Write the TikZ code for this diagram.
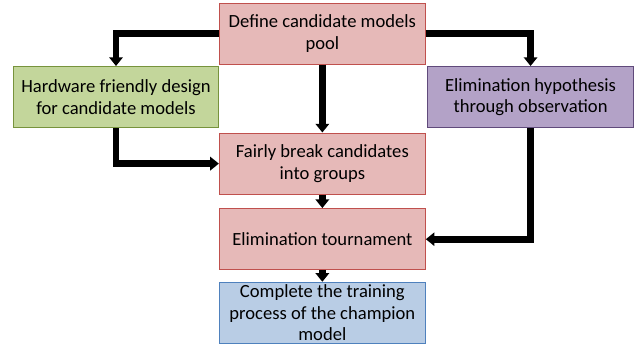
\documentclass[tikz,border=0pt]{standalone}
\usepackage{fontspec}
\setmainfont{Carlito}
\usetikzlibrary{arrows.meta}
\definecolor{rosa}{HTML}{E6B9B8}
\definecolor{rosabordo}{HTML}{C0504D}
\definecolor{verde}{HTML}{C3D69B}
\definecolor{verdebordo}{HTML}{77933C}
\definecolor{viola}{HTML}{B3A2C7}
\definecolor{violabordo}{HTML}{604A7B}
\definecolor{azzurro}{HTML}{B9CDE5}
\definecolor{azzurrobordo}{HTML}{4F81BD}
\begin{document}
\begin{tikzpicture}[
	box/.style={draw, line width=0.75pt, minimum width=5.45cm, minimum height=1.62cm,
		align=center, inner sep=0.5pt, font=\fontsize{14}{16.3}\selectfont},
	freccia/.style={line width=5.2pt, -{Triangle[width=10pt,length=6.5pt]}}
	]
	\useasboundingbox (0,0) rectangle (16.83,9.13);

	% blocchi
	\node[box, fill=rosa, draw=rosabordo] (define) at (8.53,8.24) {Define candidate models\\pool};
	\node[box, fill=verde, draw=verdebordo] (hardware) at (3.07,6.56) {Hardware friendly design\\for candidate models};
	\node[box, fill=viola, draw=violabordo] (hypothesis) at (14.04,6.56) {Elimination hypothesis\\through observation};
	\node[box, fill=rosa, draw=rosabordo] (groups) at (8.53,4.80) {Fairly break candidates\\into groups};
	\node[box, fill=rosa, draw=rosabordo] (tournament) at (8.53,2.80) {Elimination tournament};
	\node[box, fill=azzurro, draw=azzurrobordo] (champion) at (8.53,0.85) {Complete the training\\process of the champion\\model};

	% frecce
	\draw[freccia] (define.west) -| (hardware.north);
	\draw[freccia] (define.east) -| (hypothesis.north);
	\draw[freccia] (define) -- (groups);
	\draw[freccia] (hardware.south) |- (groups.west);
	\draw[freccia] (hypothesis.south) |- (tournament.east);
	\draw[freccia] (groups) -- (tournament);
	\draw[freccia] (tournament) -- (champion);
\end{tikzpicture}
\end{document}
